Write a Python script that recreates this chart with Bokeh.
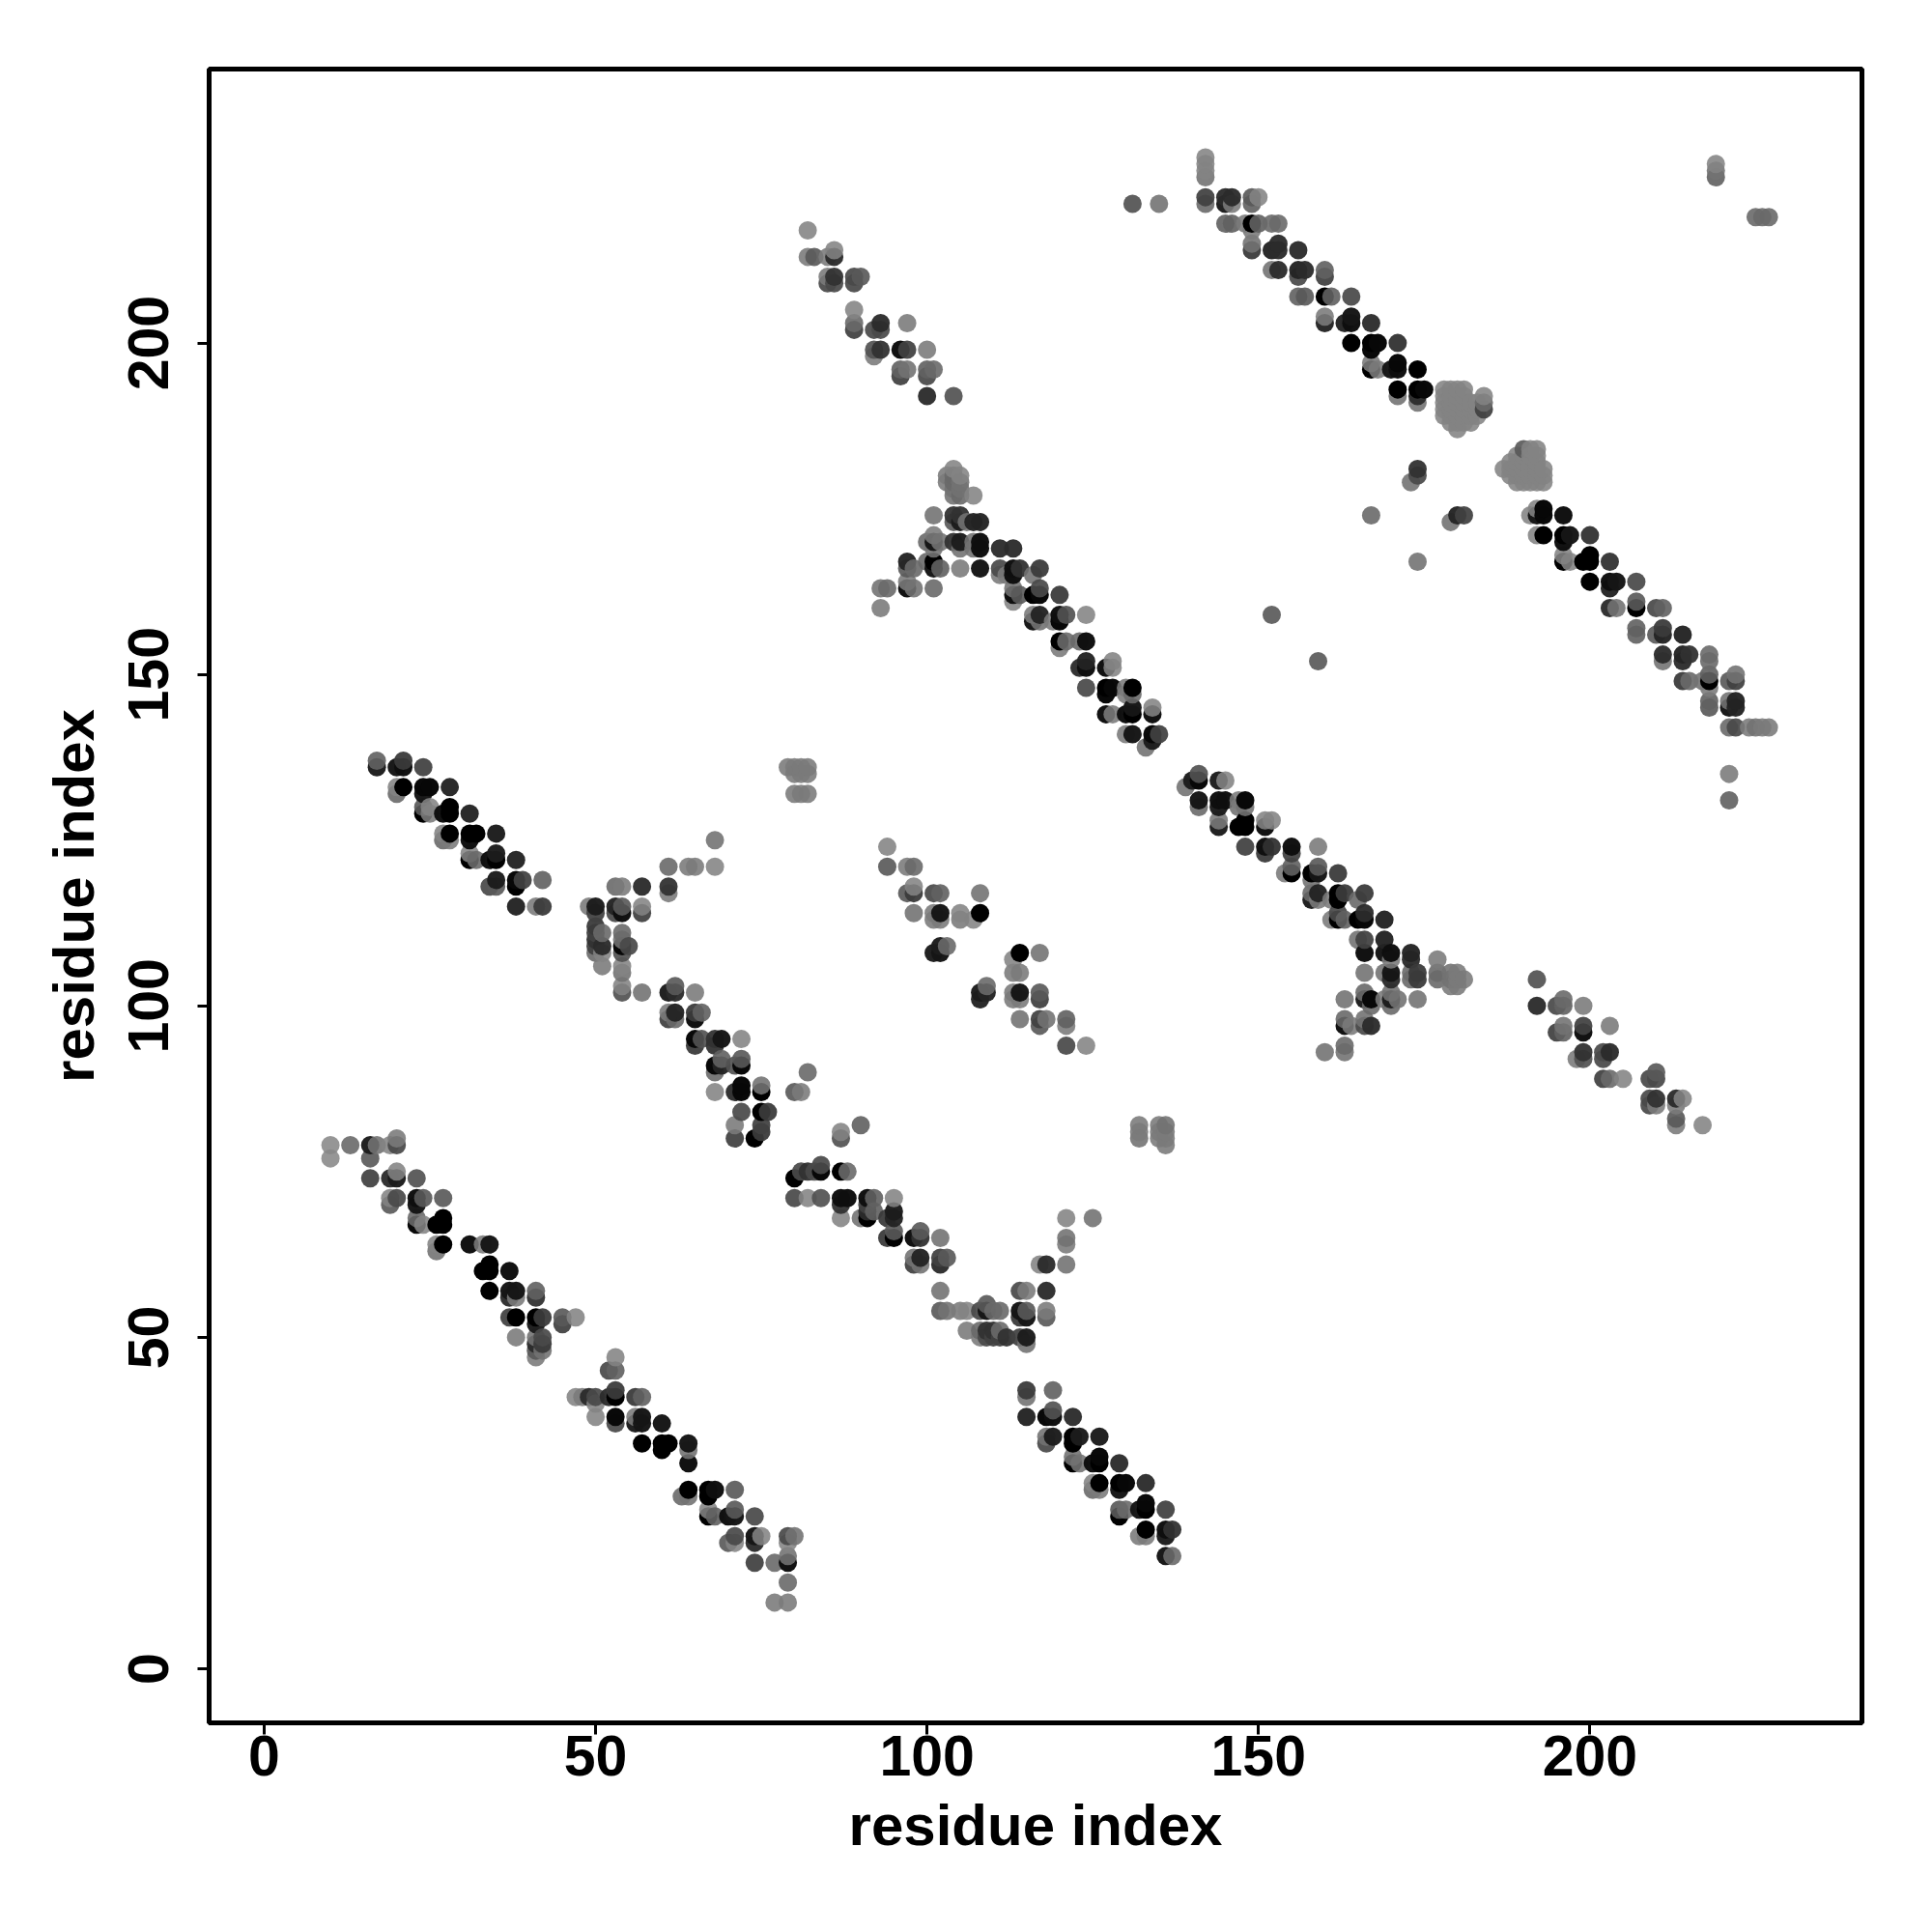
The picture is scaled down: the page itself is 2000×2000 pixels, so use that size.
from bokeh.plotting import figure
from bokeh.models import ColumnDataSource, FixedTicker
from bokeh.embed import file_html
from bokeh.resources import INLINE

# (residue x, residue y, displayed grey level 0-255)
band_a = [(10,79,0x8c),(10,77,0x8c),(13,79,0x70),(16,79,0x20),(16,77,0x60),(17,79,0x78),(19,79,0x88),(20,80,0x80),(20,79,0x50),
(16,74,0x48),(19,74,0x30),(20,74,0x20),(20,75,0x88),(23,74,0x58),(19,71,0x88),(19,70,0x60),(20,71,0x50),(23,71,0x10),(23,70,0x18),(24,71,0x60),(27,71,0x60),
(23,68,0x70),(23,67,0x08),(24,67,0x88),(26,67,0x00),(27,67,0x00),(27,68,0x00),(26,64,0x88),(26,63,0x78),(27,64,0x00),(31,64,0x10),(33,64,0x80),(34,64,0x18),
(33,60,0x00),(34,60,0x00),(34,61,0x00),(37,60,0x10),(34,57,0x00),(37,57,0x18),(37,56,0x30),(38,57,0x18),(38,56,0x80),(41,57,0x68),(41,56,0x38),
(37,53,0x48),(38,53,0x00),(41,53,0x00),(41,52,0x20),(42,53,0x40),(45,53,0x60),(45,52,0x48),(47,53,0x88),(38,50,0x80),(41,50,0x78),(41,49,0x30),(41,48,0x60),(41,47,0x80),(42,50,0x50),(42,49,0x40),(42,48,0x78)]
band_b = [(53,47,0x88),(52,45,0x50),(53,45,0x68),(47,41,0x88),(48,41,0x80),(49,41,0x30),(50,41,0x50),(50,40,0x88),(52,41,0x30),(53,41,0x00),(53,42,0x40),(56,41,0x40),(57,41,0x68),
(50,38,0x88),(53,38,0x08),(53,37,0x50),(56,38,0x80),(56,37,0x20),(57,38,0x18),(57,37,0x18),(60,37,0x18),(57,34,0x00),(60,34,0x00),(60,33,0x00),(61,34,0x00),(64,34,0x18),(64,33,0x78),(64,31,0x10),
(63,26,0x70),(64,27,0x00),(64,26,0x78),(67,27,0x00),(67,26,0x00),(68,27,0x10),(71,27,0x60),(67,24,0x88),(67,23,0x00),(68,23,0x68),(70,23,0x10),(71,23,0x18),(71,24,0x60),(74,23,0x50),
(70,19,0x60),(71,20,0x50),(71,19,0x88),(74,20,0x18),(74,19,0x30),(75,20,0x88),(79,20,0x50),(79,19,0x88),(80,20,0x78),(74,16,0x48),(77,16,0x70),(79,17,0x78),(79,16,0x10),(79,13,0x70),(77,10,0x80),(79,10,0x80)]
band_c = [(115,42,0x40),(115,41,0x78),(119,42,0x68),(115,38,0x28),(118,38,0x08),(119,38,0x10),(119,39,0x58),(122,38,0x30),(118,35,0x78),(118,34,0x50),(119,35,0x20),(122,35,0x00),(122,34,0x00),(123,35,0x20),(126,35,0x20),
(122,32,0x78),(122,31,0x00),(123,31,0x78),(125,31,0x10),(126,31,0x00),(126,32,0x08),(129,31,0x30),(125,28,0x88),(125,27,0x70),(126,28,0x00),(126,27,0x80),(129,28,0x00),(129,27,0x18),(130,28,0x08),(133,28,0x30),
(129,24,0x60),(129,23,0x00),(130,24,0x70),(132,24,0x18),(133,24,0x00),(133,25,0x08),(136,24,0x48),(132,20,0x80),(133,21,0x00),(133,20,0x80),(136,21,0x10),(136,20,0x20),(137,21,0x38),(136,17,0x18),(137,17,0x70)]
band_d = [(90,82,0x68),(87,81,0x88),(87,80,0x58),(80,74,0x00),(81,75,0x50),(82,75,0x38),(83,75,0x50),(84,76,0x50),(84,75,0x08),(87,75,0x00),(88,75,0x70),(80,71,0x50),(82,71,0x88),(84,71,0x58),(87,71,0x10),(87,70,0x38),(88,71,0x10),(91,71,0x10),(91,70,0x48),(92,71,0x68),(95,71,0x88),
(87,68,0x88),(90,68,0x78),(91,68,0x00),(91,69,0x30),(92,69,0x68),(94,68,0x40),(95,69,0x20),(95,68,0x28),(94,65,0x40),(95,65,0x00),(95,66,0x60),(98,65,0x10),(99,65,0x38),(99,66,0x60),(102,65,0x78),
(98,62,0x78),(98,61,0x48),(99,62,0x28),(99,61,0x78),(102,62,0x48),(102,61,0x30),(103,62,0x60),(102,57,0x78),(102,54,0x60),(103,54,0x78),(105,54,0x80),(106,54,0x88),(108,54,0x50),(109,55,0x60),(109,54,0x18),(110,54,0x70),(111,54,0x70),(114,54,0x18),(114,53,0x40),(115,54,0x60),(115,53,0x18),(118,54,0x80),(118,53,0x60),
(114,57,0x50),(115,57,0x80),(118,57,0x30),(117,61,0x88),(118,61,0x30),(121,61,0x78),(121,65,0x78),(121,64,0x80),(121,68,0x88),(125,68,0x78),
(106,51,0x80),(108,51,0x70),(108,50,0x80),(109,51,0x38),(109,50,0x50),(110,51,0x38),(110,50,0x48),(111,51,0x70),(111,50,0x48),(112,50,0x38),(114,50,0x48),(115,50,0x20),(115,49,0x78)]
band_e = [(17,137,0x68),(17,136,0x20),(20,136,0x18),(21,137,0x40),(21,136,0x10),(24,136,0x48),(20,133,0x88),(20,132,0x70),(21,133,0x00),(24,133,0x08),(24,132,0x18),(25,133,0x08),(28,133,0x28),
(24,130,0x60),(24,129,0x00),(25,130,0x88),(25,129,0x80),(27,129,0x10),(28,129,0x00),(28,130,0x00),(31,129,0x28),(27,126,0x88),(27,125,0x70),(28,126,0x00),(28,125,0x80),(31,126,0x00),(31,125,0x10),(32,126,0x00),(35,126,0x20),
(31,122,0x00),(31,123,0x88),(32,122,0x70),(34,122,0x10),(35,122,0x00),(35,123,0x20),(38,122,0x28),(34,118,0x50),(35,119,0x20),(35,118,0x60),(38,119,0x08),(38,118,0x00),(39,119,0x48),(42,119,0x68),(38,115,0x28),(41,115,0x80),(42,115,0x40)]
band_f = [(68,125,0x78),(61,121,0x70),(64,121,0x80),(65,121,0x80),(68,121,0x88),(53,118,0x70),(54,118,0x80),(57,118,0x30),(61,118,0x38),(61,117,0x80),(49,115,0x80),(50,115,0x20),(50,114,0x48),(53,115,0x28),(53,114,0x50),(54,115,0x60),(54,114,0x10),(57,115,0x88),(57,114,0x48),
(50,112,0x40),(50,111,0x48),(50,110,0x38),(50,109,0x48),(50,108,0x70),(51,111,0x70),(51,109,0x30),(51,108,0x88),(51,106,0x80),(54,111,0x70),(54,110,0x78),(54,109,0x08),(54,108,0x58),(55,109,0x50),(54,106,0x88),(54,105,0x78),(54,103,0x88),(54,102,0x58),(57,102,0x78),
(61,102,0x20),(62,103,0x60),(62,102,0x30),(65,102,0x80),(61,99,0x80),(61,98,0x48),(62,99,0x28),(62,98,0x70),(65,99,0x40),(65,98,0x10),(66,99,0x68),(65,95,0x08),(65,94,0x40),(66,95,0x58),(68,95,0x38),(68,94,0x38),(69,95,0x18),(72,95,0x88),
(68,91,0x08),(68,90,0x70),(69,92,0x68),(69,91,0x28),(71,91,0x58),(72,91,0x08),(72,92,0x60),(68,87,0x88),(71,87,0x30),(72,87,0x08),(72,88,0x08),(75,87,0x00),(75,88,0x78),(80,87,0x60),(81,87,0x80),(82,90,0x70),
(72,84,0x50),(75,84,0x00),(76,84,0x40),(71,82,0x80),(71,80,0x48),(74,80,0x00),(75,82,0x48),(75,81,0x40),(79,136,0x80),(80,136,0x80),(81,136,0x80),(82,136,0x80),(80,135,0x80),(81,135,0x80),(82,135,0x80),(80,132,0x80),(81,132,0x80),(82,132,0x80)]
band_g = [(94,124,0x88),(94,121,0x60),(97,121,0x80),(98,121,0x70),(97,117,0x60),(98,118,0x88),(98,117,0x40),(101,117,0x50),(102,117,0x68),(108,117,0x78),(98,114,0x78),(101,114,0x80),(101,113,0x80),(102,114,0x18),(102,113,0x80),(105,114,0x88),(105,113,0x80),(107,113,0x88),(108,114,0x00),
(101,108,0x20),(102,109,0x20),(102,108,0x18),(103,109,0x70),(114,108,0x00),(117,108,0x78),(113,107,0x88),(113,105,0x80),(114,105,0x80),(108,102,0x20),(109,103,0x70),(109,102,0x28),(108,101,0x28),(113,102,0x80),(113,101,0x80),(114,102,0x18),(114,101,0x80),(117,102,0x60),(117,101,0x48),
(114,98,0x78),(117,98,0x48),(117,97,0x60),(118,98,0x78),(121,98,0x68),(121,97,0x80),(121,94,0x50),(124,94,0x88),(132,82,0x80),(132,81,0x80),(132,80,0x78),(135,82,0x80),(135,81,0x80),(135,80,0x80),(136,82,0x78),(136,81,0x80),(136,80,0x80),(136,79,0x80)]
band_h = [(93,163,0x78),(94,163,0x70),(93,160,0x80),(97,167,0x28),(97,166,0x60),(98,166,0x70),(97,164,0x80),(97,163,0x10),(98,163,0x78),(101,163,0x70),(100,167,0x70),(101,167,0x00),(101,166,0x18),(102,166,0x68),(105,166,0x80),(108,166,0x18),
(100,170,0x70),(101,171,0x80),(101,170,0x18),(101,169,0x78),(102,170,0x78),(101,174,0x78),(104,174,0x38),(105,174,0x38),(104,173,0x60),(105,173,0x20),(106,173,0x78),(107,173,0x28),(108,173,0x28),(104,170,0x38),(105,170,0x20),(105,169,0x78),(107,170,0x78),(107,169,0x78),(108,170,0x10),(108,169,0x10),(111,169,0x30),(113,169,0x30),
(104,177,0x78),(105,177,0x70),(107,177,0x88),(103,180,0x80),(103,179,0x80),(104,181,0x88),(104,180,0x70),(105,180,0x88),(104,179,0x70),(105,179,0x78),(104,178,0x78),(105,178,0x78),
(111,166,0x50),(111,165,0x80),(112,165,0x80),(113,166,0x10),(113,165,0x10),(114,166,0x38),(116,165,0x78),(117,166,0x40),(113,163,0x78),(113,162,0x10),(113,161,0x88),(114,162,0x60),(116,162,0x00),(117,163,0x50),(117,162,0x08),(120,162,0x40),
(116,159,0x80),(116,158,0x18),(117,159,0x28),(117,158,0x78),(119,158,0x80),(120,159,0x10),(120,158,0x08),(121,159,0x58),(124,159,0x88),(120,155,0x00),(120,154,0x80),(121,155,0x70),(123,155,0x70),(124,155,0x10),
(123,151,0x30),(124,152,0x28),(124,151,0x10),(127,151,0x10),(128,152,0x88),(128,151,0x88),(124,148,0x50),(127,148,0x00),(127,147,0x08),(128,148,0x08),(130,148,0x80),(130,147,0x80),(131,148,0x00),(131,147,0x70),
(127,144,0x10),(128,144,0x80),(130,144,0x10),(131,145,0x18),(131,144,0x00),(134,145,0x88),(134,144,0x10),(130,141,0x80),(131,141,0x18),(134,141,0x08),(134,140,0x20),(133,139,0x78),(135,141,0x48)]
band_i = [(139,133,0x78),(140,134,0x20),(141,135,0x58),(141,134,0x08),(144,134,0x20),(145,134,0x88),(141,131,0x18),(141,130,0x70),(144,131,0x10),(144,130,0x20),(145,131,0x10),(147,130,0x78),(147,131,0x80),(148,131,0x08),(148,130,0x78),
(144,128,0x80),(144,127,0x20),(147,127,0x00),(148,128,0x00),(148,127,0x00),(151,128,0x88),(151,127,0x10),(152,128,0x88),(148,124,0x48),(151,124,0x10),(151,123,0x40),(152,124,0x38),(155,124,0x10),(155,123,0x48),(159,124,0x80),
(154,120,0x80),(155,121,0x68),(155,120,0x00),(158,120,0x00),(158,119,0x78),(159,121,0x60),(159,120,0x18),(162,120,0x40),(158,117,0x70),(158,116,0x20),(159,117,0x28),(159,116,0x80),(161,116,0x80),(162,117,0x00),(162,116,0x00),(163,117,0x40),(165,116,0x70),(166,117,0x40),
(161,113,0x80),(162,114,0x50),(162,113,0x00),(163,113,0x68),(165,113,0x00),(166,114,0x30),(166,113,0x08),(169,113,0x28),(165,110,0x78),(166,110,0x48),(169,110,0x28),(166,108,0x10),(169,108,0x18),(170,108,0x10),(170,107,0x80),(173,108,0x28),(173,107,0x30),
(166,105,0x78),(169,105,0x78),(170,105,0x18),(170,104,0x30),(173,105,0x70),(173,104,0x70),(174,105,0x40),(174,104,0x40),(177,107,0x80),(177,105,0x70),(177,104,0x70),(179,105,0x78),(179,104,0x78),(179,103,0x80),(180,105,0x80),(180,104,0x80),(180,103,0x80),(181,104,0x80),
(163,101,0x78),(166,102,0x70),(166,101,0x20),(167,101,0x08),(167,100,0x70),(169,101,0x80),(170,102,0x78),(170,101,0x20),(170,100,0x70),(171,101,0x78),(174,101,0x78),(163,98,0x70),(163,97,0x10),(164,97,0x80),(166,98,0x78),(166,97,0x50),(167,97,0x30),(163,94,0x70),(163,93,0x78),(160,93,0x78)]
band_j = [(142,228,0x88),(142,227,0x88),(142,226,0x88),(142,225,0x78),(142,222,0x48),(142,221,0x70),(145,222,0x30),(146,222,0x30),(145,221,0x20),(146,221,0x80),(149,222,0x60),(149,221,0x68),(150,222,0x88),
(145,218,0x68),(146,218,0x68),(148,218,0x80),(149,218,0x00),(149,217,0x80),(150,218,0x68),(152,218,0x70),(153,218,0x70),(149,215,0x78),(149,214,0x40),(152,214,0x28),(153,215,0x30),(153,214,0x30),(156,214,0x30),
(152,211,0x78),(153,211,0x30),(156,211,0x28),(156,210,0x50),(157,211,0x30),(160,211,0x68),(160,210,0x48),(156,207,0x68),(157,207,0x60),(160,207,0x00),(161,207,0x68),(164,207,0x50),
(160,204,0x80),(160,203,0x28),(163,203,0x28),(164,204,0x18),(164,203,0x10),(167,203,0x30),(164,200,0x00),(167,200,0x00),(167,199,0x08),(168,200,0x08),(171,200,0x38),
(167,197,0x80),(167,196,0x00),(168,196,0x80),(170,196,0x18),(171,197,0x08),(171,196,0x10),(174,196,0x00),(171,193,0x00),(171,192,0x78),(174,193,0x00),(174,192,0x30),(174,191,0x78),(175,193,0x08),
(131,221,0x58),(135,221,0x78),(219,227,0x88),(219,226,0x78),(219,225,0x68),(225,219,0x70),(226,219,0x70),(227,219,0x70),(167,174,0x70),(174,167,0x78),(152,159,0x60),(159,152,0x60),(173,179,0x78),(174,181,0x38),(174,180,0x50),(179,173,0x78),(180,174,0x28),(181,174,0x48)]
clump_a = [(178,193,0x88),(178,192,0x88),(178,191,0x88),(178,190,0x88),(178,189,0x88),(179,193,0x88),(179,192,0x88),(179,191,0x88),(179,190,0x88),(179,189,0x88),(179,188,0x88),(180,193,0x88),(180,192,0x88),(180,191,0x88),(180,190,0x88),(180,189,0x88),(180,188,0x88),(180,187,0x88),(181,193,0x88),(181,192,0x88),(181,191,0x88),(181,190,0x88),(181,189,0x88),(181,188,0x88),(182,191,0x88),(182,190,0x88),(182,189,0x88),(182,188,0x88),(183,191,0x88),(183,190,0x88),(183,189,0x88),(184,192,0x88),(184,191,0x70),(184,190,0x48)]
clump_b = [(187,181,0x88),(188,182,0x88),(188,181,0x88),(188,180,0x88),(189,183,0x88),(189,182,0x88),(189,181,0x88),(189,180,0x88),(189,179,0x88),(190,184,0x60),(190,183,0x88),(190,182,0x88),(190,181,0x88),(190,180,0x88),(190,179,0x88),(191,184,0x88),(191,183,0x88),(191,182,0x88),(191,181,0x88),(191,180,0x88),(191,179,0x88),(192,184,0x88),(192,183,0x88),(192,182,0x88),(192,181,0x88),(192,180,0x88),(192,179,0x88),(193,181,0x88),(193,180,0x88),(193,179,0x88)]
band_k = [(191,174,0x88),(192,175,0x88),(192,174,0x18),(193,175,0x08),(193,174,0x08),(196,174,0x10),(192,171,0x88),(193,171,0x00),(196,171,0x00),(196,170,0x10),(197,171,0x18),(200,171,0x38),(196,168,0x88),(196,167,0x00),(197,167,0x88),(199,167,0x00),(200,168,0x00),(200,167,0x00),(203,167,0x38),
(200,164,0x00),(203,164,0x10),(203,163,0x28),(204,164,0x18),(207,164,0x50),(203,160,0x30),(204,160,0x78),(207,161,0x60),(207,160,0x00),(210,160,0x50),(211,160,0x68),(207,157,0x68),(207,156,0x68),(210,156,0x60),(211,157,0x40),(211,156,0x28),(214,156,0x28),
(211,153,0x30),(211,152,0x78),(214,153,0x28),(214,152,0x30),(215,153,0x38),(218,153,0x70),(218,152,0x70),(214,149,0x40),(215,149,0x70),(217,149,0x78),(218,150,0x68),(218,149,0x00),(218,148,0x80),(221,149,0x60),(222,150,0x78),(222,149,0x48),
(218,146,0x68),(218,145,0x60),(221,146,0x78),(221,145,0x18),(222,146,0x28),(222,145,0x28),(221,142,0x70),(222,142,0x50),(224,142,0x80),(225,142,0x78),(226,142,0x80),(227,142,0x80),(221,135,0x80),(221,131,0x68)]
band_l = [(82,217,0x88),(82,213,0x80),(83,213,0x60),(85,213,0x80),(86,214,0x88),(86,213,0x30),(85,210,0x80),(85,209,0x50),(86,210,0x38),(86,209,0x50),(89,210,0x50),(89,209,0x50),(90,210,0x60),(89,205,0x88),(89,203,0x70),(89,202,0x48),(93,203,0x30),(92,202,0x50),(93,202,0x50),(97,203,0x80),(92,199,0x58),(92,198,0x80),(93,199,0x38),(96,199,0x10),(97,199,0x48),(100,199,0x80),(96,196,0x68),(96,195,0x48),(97,196,0x78),(100,196,0x68),(100,195,0x50),(101,196,0x70),(100,192,0x30),(104,192,0x58)]
band_m = [(217,82,0x88),(213,82,0x80),(213,83,0x60),(213,85,0x80),(214,86,0x88),(213,86,0x30),(210,85,0x80),(209,85,0x50),(210,86,0x38),(209,86,0x50),(210,89,0x50),(209,89,0x50),(210,90,0x60),(205,89,0x88),(203,89,0x70),(202,89,0x48),(203,93,0x30),(202,92,0x50),(202,93,0x50),(203,97,0x80),(199,92,0x58),(198,92,0x80),(199,93,0x38),(199,96,0x10),(199,97,0x48),(199,100,0x80),(196,96,0x68),(195,96,0x48),(196,97,0x78),(196,100,0x68),(195,100,0x50),(196,101,0x70),(192,100,0x30),(192,104,0x58)]

tick_values = [0, 50, 100, 150, 200]
axis_title = "residue index"

contacts = sorted(band_a + band_b + band_c + band_d + band_e + band_f + band_g + band_h + band_i + band_j
                  + clump_a + clump_b + band_k + band_l + band_m, key=lambda t: (t[0], t[1]))

def fill_of(g):
    # eye-read greys sit slightly below the true ones for the light dots
    g = g + 10 * g / 136
    a = 1 - 0.12 * g / 146
    c = max(0, min(255, round((g - 255 * (1 - a)) / a)))
    return "#%02x%02x%02x" % (c, c, c), a

fills = [fill_of(t[2]) for t in contacts]
src = ColumnDataSource(dict(x=[t[0] for t in contacts], y=[t[1] for t in contacts],
                            color=[f[0] for f in fills], alpha=[f[1] for f in fills]))

p = figure(width=1984, height=1984, frame_width=1711, frame_height=1712,
           x_range=(-8.3, 241.04), y_range=(-8.16, 241.33),
           output_backend="svg", toolbar_location=None,
           min_border_left=216, min_border_top=71, min_border_right=57, min_border_bottom=201,
           background_fill_color="white", border_fill_color="white")
p.scatter("x", "y", source=src, size=19, marker="circle", fill_color="color", fill_alpha="alpha", line_color=None)

p.grid.visible = False
p.outline_line_color = "black"
p.outline_line_width = 5
for ax in (p.xaxis[0], p.yaxis[0]):
    ax.ticker = FixedTicker(ticks=tick_values)
    ax.axis_label = axis_title
    ax.axis_label_text_font = "Liberation Sans"
    ax.axis_label_text_font_style = "bold"
    ax.axis_label_text_font_size = "60px"
    ax.axis_label_text_color = "black"
    ax.major_label_text_font = "Liberation Sans"
    ax.major_label_text_font_style = "bold"
    ax.major_label_text_font_size = "59px"
    ax.major_label_text_color = "black"
    ax.axis_line_color = "black"
    ax.axis_line_width = 4
    ax.major_tick_line_color = "black"
    ax.major_tick_line_width = 3
    ax.major_tick_in = 0
    ax.major_tick_out = 12
    ax.minor_tick_line_color = None
p.yaxis[0].major_label_orientation = "vertical"
p.xaxis[0].major_label_standoff = 1
p.yaxis[0].major_label_standoff = 30
p.xaxis[0].axis_label_standoff = 15
p.yaxis[0].axis_label_standoff = 21

open("out.html", "w").write(file_html(p, INLINE))
